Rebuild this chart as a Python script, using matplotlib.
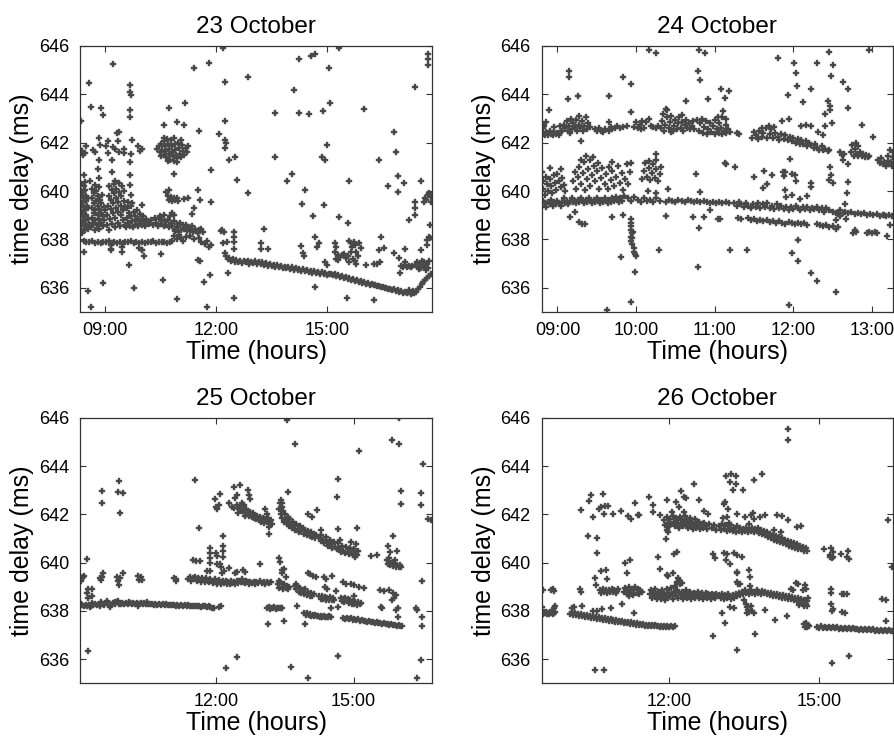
import matplotlib.pyplot as plt
import numpy as np

plt.rcParams['font.family'] = ['Liberation Sans', 'DejaVu Sans']

# ---------------- 23 October ----------------
oct23_early = [
    (8.33,638.4),(8.33,638.8),(8.34,639.2),(8.33,639.6),(8.34,640.0),(8.36,638.6),(8.37,639.0),(8.36,639.4),
    (8.37,639.8),(8.39,638.35),(8.4,638.75),(8.39,639.15),(8.4,639.55),(8.41,639.95),(8.43,638.55),(8.44,638.95),
    (8.43,639.35),(8.44,639.75),(8.46,638.4),(8.47,638.8),(8.46,639.2),(8.48,639.6),(8.47,640.05),(8.5,638.6),
    (8.5,639.0),(8.51,639.4),(8.5,639.8),(8.53,638.45),(8.54,638.85),(8.53,639.3),(8.55,639.7),(8.56,638.65),
    (8.35,640.3),(8.42,640.2),(8.38,638.25),
    (8.63,638.5),(8.64,638.9),(8.64,639.3),(8.65,639.7),(8.66,640.1),(8.68,638.7),(8.69,639.1),(8.7,639.5),
    (8.7,639.9),(8.73,638.4),(8.74,638.8),(8.74,639.2),(8.75,639.6),(8.76,640.0),(8.79,638.6),(8.8,639.0),
    (8.8,639.4),(8.81,639.8),(8.84,638.45),(8.85,638.85),(8.85,639.25),(8.86,639.65),(8.89,638.7),(8.9,639.1),
    (8.9,639.5),(8.92,639.85),(8.95,638.55),(8.95,638.95),(8.96,639.35),(8.98,638.8),(8.99,639.2),(8.72,640.25),
    (8.83,640.15),
    (9.05,638.6),(9.06,639.0),(9.08,639.4),(9.1,639.8),(9.12,640.2),(9.12,638.4),(9.14,638.85),(9.15,639.25),
    (9.16,639.65),(9.18,640.05),(9.2,638.65),(9.21,639.1),(9.22,639.5),(9.23,639.9),(9.24,640.3),(9.27,638.5),
    (9.28,638.9),(9.29,639.3),(9.3,639.7),(9.31,640.1),(9.34,638.7),(9.35,639.15),(9.36,639.55),(9.37,639.95),
    (9.38,640.35),(9.41,638.55),(9.42,639.0),(9.43,639.4),(9.44,639.8),(9.45,640.2),(9.48,638.8),(9.49,639.2),
    (9.5,639.6),(9.52,640.0),(9.54,638.6),(9.55,639.35),(9.26,640.4),
    (9.58,638.5),(9.59,638.9),(9.6,639.3),(9.63,638.7),(9.65,639.1),(9.67,638.55),(9.69,638.95),(9.71,639.4),
    (9.73,638.75),(9.75,638.5),(9.77,639.15),(9.8,638.6),(9.81,638.95),(9.84,638.8),(9.86,639.2),(9.88,638.55),
    (9.9,638.85),(9.93,638.65),(9.95,639.05),(9.97,638.8),(10.0,638.6),(10.02,638.95),(10.05,638.75),(10.08,638.55),
    (10.1,638.85),(10.13,638.7),(9.62,639.55),(9.74,639.5),
]
oct23_mid = [
    (10.2,638.65),(10.25,638.8),(10.3,638.6),(10.34,638.9),(10.38,638.7),(10.42,638.55),(10.45,638.85),(10.5,638.65),
    (10.54,638.8),(10.58,638.55),(10.62,638.75),(10.66,638.6),(10.7,638.8),(10.74,638.5),(10.78,638.7),(10.82,638.55),
    (10.86,638.75),(10.9,638.45),(10.94,638.65),(10.98,638.5),(11.02,638.7),(11.06,638.4),(11.1,638.6),(11.14,638.45),
    (11.18,638.6),(11.22,638.35),(11.26,638.5),(11.3,638.4),(11.34,638.55),(11.38,638.3),(11.42,638.45),(11.46,638.35),
    (10.48,638.95),(10.6,639.0),(10.75,638.95),(10.88,638.35),(11.0,638.3),
    (10.85,638.15),(10.95,638.0),(11.0,638.2),(11.05,638.05),(11.1,637.95),(11.2,638.1),(11.3,638.15),(11.4,638.0),
    (11.5,638.25),(11.55,638.05),(11.6,637.9),(11.65,638.3),(11.7,637.8),(11.75,637.95),(11.8,637.7),(11.85,637.75),
    (11.55,638.4),(11.6,638.45),
    (8.42,637.95),(8.5,637.9),(8.58,637.88),(8.65,637.92),(8.72,637.87),(8.8,637.9),(8.88,637.85),(8.95,637.9),
    (9.03,637.88),(9.1,637.92),(9.18,637.86),(9.25,637.9),(9.33,637.87),(9.4,637.91),(9.48,637.86),(9.55,637.9),
    (9.63,637.88),(9.7,637.92),(9.78,637.86),(9.85,637.9),(9.93,637.87),(10.0,637.91),(10.08,637.86),(10.15,637.9),
    (10.23,637.88),(10.3,637.92),(10.38,637.87),(10.45,637.9),(10.53,637.88),(10.6,637.91),(10.68,637.86),(10.75,637.9),
    (10.82,637.95),(9.15,637.75),(9.17,637.6),(9.45,637.7),(9.92,637.65),(10.0,637.55),
    (12.15,638.4),(12.2,638.3),(12.49,638.3),(12.49,638.1),(12.49,637.9),(12.3,637.9),(12.47,637.6),(12.27,637.3),
    (12.32,637.2),(12.12,638.35),(12.18,637.85),(12.25,637.45),
    (10.66,639.95),(10.7,639.8),(10.74,639.65),(10.78,639.75),(10.82,639.6),(10.86,639.7),(10.9,639.62),(10.94,639.72),
    (10.98,639.6),(10.72,640.05),(10.8,639.1),(10.85,639.0),
    (10.4,641.75),(10.45,641.85),(10.48,641.6),(10.52,641.95),(10.55,641.7),(10.58,641.5),(10.6,642.05),(10.62,641.85),
    (10.65,641.65),(10.66,641.4),(10.7,641.95),(10.72,641.75),(10.74,641.55),(10.76,641.3),(10.78,642.1),(10.8,641.85),
    (10.82,641.6),(10.84,641.45),(10.86,641.25),(10.88,641.95),(10.9,641.7),(10.92,641.5),(10.95,641.35),(10.97,642.0),
    (11.0,641.8),(11.02,641.55),(11.05,641.4),(11.08,641.9),(11.1,641.65),(11.14,641.5),(11.18,641.8),(11.22,641.6),
    (10.68,642.15),(10.58,642.2),(10.85,642.2),(11.05,642.1),(10.7,641.25),(10.95,641.2),(10.5,641.45),(11.25,641.85),
]
oct23_late = [
    (12.35,637.22),(12.40,637.10),(12.45,637.18),(12.50,637.05),(12.55,637.15),(12.60,637.08),(12.65,637.12),
    (12.70,637.02),(12.75,637.10),(12.80,637.05),(12.85,637.12),(12.90,637.00),(12.95,637.08),(13.00,637.03),
    (13.05,637.10),(13.10,636.98),(13.15,637.05),(13.20,637.00),(13.25,637.08),(13.30,636.95),(13.35,637.02),
    (13.40,636.92),(13.45,637.00),(13.50,636.90),(13.55,636.96),(13.60,636.88),(13.65,636.95),(13.70,636.85),
    (13.75,636.92),(13.80,636.82),(13.85,636.88),(13.90,636.80),(13.95,636.86),(14.00,636.78),(14.05,636.84),
    (14.10,636.75),(14.15,636.82),(14.20,636.72),(14.25,636.78),(14.30,636.70),(14.35,636.76),(14.40,636.68),
    (14.45,636.74),(14.50,636.65),(14.55,636.70),(14.60,636.62),(14.65,636.68),(14.70,636.60),(14.75,636.66),
    (14.80,636.58),(14.85,636.64),(14.90,636.55),(14.95,636.60),(15.00,636.52),(15.05,636.58),(15.10,636.58),
    (15.15,636.52),(15.20,636.56),(15.25,636.48),(15.30,636.52),(15.35,636.44),(15.40,636.48),(15.45,636.40),
    (15.50,636.44),(15.55,636.36),(15.60,636.40),(15.65,636.32),(15.70,636.36),(15.75,636.28),(15.80,636.32),
    (15.85,636.24),(15.90,636.28),(15.95,636.21),(16.00,636.24),(16.05,636.17),(16.10,636.21),(16.15,636.13),
    (16.20,636.17),(16.25,636.10),(16.30,636.13),(16.35,636.06),(16.40,636.09),(16.45,636.02),(16.50,636.05),
    (16.55,635.98),(16.60,636.01),(16.65,635.94),(16.70,635.97),(16.75,635.90),(16.80,635.93),(16.85,635.86),
    (16.90,635.90),(16.95,635.83),(17.00,635.86),(17.05,635.79),(17.10,635.83),(17.15,635.77),(17.20,635.81),
    (17.25,635.75),(17.30,635.79),(17.35,635.77),(17.40,635.84),(17.45,635.95),(17.50,636.05),(17.55,636.15),
    (17.60,636.25),(17.65,636.32),(17.70,636.40),(17.75,636.48),(17.80,636.55),(17.22,635.9),(17.32,635.88),
    (17.38,636.95),(17.42,637.05),(17.45,636.85),(17.5,637.0),(17.52,636.8),(17.55,637.1),(17.6,636.9),(17.62,637.05),
    (17.65,636.85),(17.7,637.0),(17.72,636.8),(17.75,637.1),(17.68,636.75),(17.48,636.78),
    (17.0,636.92),(17.05,636.85),(17.1,636.95),(17.15,636.88),(17.2,636.92),(17.25,636.85),(17.3,636.9),
    (15.2,637.85),(15.24,637.7),(15.21,637.5),(15.29,637.35),(15.35,637.28),(15.4,637.35),(15.46,637.4),(15.58,637.95),
    (15.63,637.85),(15.67,637.7),(15.71,637.9),(15.76,637.75),(15.78,637.5),(15.65,637.5),(15.57,637.3),(15.7,637.2),
    (15.76,637.1),(15.83,637.3),(15.86,637.85),(15.6,637.05),(15.78,636.98),(15.3,637.15),(15.25,637.2),(15.5,637.25),
    (15.9,637.65),
]
oct23_scatter = [
    (14.66,638.11),(14.73,637.7),(14.79,637.84),(14.28,637.73),(14.35,637.43),(14.38,637.3),(14.93,637.08),
    (14.99,636.95),(16.46,638.11),(16.53,637.63),(16.4,637.56),(16.06,636.95),(16.25,636.98),(16.35,637.0),
    (16.42,637.05),(16.8,637.45),(16.95,637.22),(17.11,637.6),(17.1,637.08),(16.97,636.63),
    (17.2,638.8),(17.38,639.03),(17.36,639.3),(17.38,639.55),(17.61,639.55),(17.63,639.7),(17.68,639.62),
    (17.72,639.85),(17.76,639.9),(17.79,639.55),(17.81,639.75),(17.78,638.6),(17.77,638.05),(17.69,637.98),
    (17.54,637.56),(17.7,637.75),(17.74,638.1),
    (14.25,645.45),(14.57,645.59),(14.66,645.67),(15.31,645.92),(15.04,645.08),(14.09,644.18),(13.6,643.23),
    (14.23,643.23),(14.5,643.19),(14.88,643.33),(15.08,643.63),(15.98,643.41),(17.36,644.3),(17.72,645.66),
    (17.72,645.48),(17.72,645.2),(13.58,641.39),(14.99,641.91),(14.85,641.4),(14.95,641.3),(14.05,640.69),
    (13.91,640.43),(14.41,640.03),(15.58,640.43),(16.41,641.3),(16.79,642.43),(16.86,641.61),(16.91,640.61),
    (17.07,640.33),(16.91,639.96),(16.65,640.22),(17.54,640.43),(14.31,639.48),(14.9,639.44),(14.62,638.96),
    (15.32,638.91),(15.56,638.66),(13.3,638.43),(13.22,637.84),(13.22,637.6),(13.41,637.6),(14.68,636.03),
    (15.53,635.57),(16.26,635.48),
    (8.37,641.64),(8.46,641.58),(8.5,641.88),(8.68,641.68),(8.84,642.19),(8.86,641.91),(9.03,641.86),(9.07,642.09),
    (9.09,641.58),(9.21,641.82),(9.27,641.75),(9.36,642.05),(9.39,641.61),(9.51,641.72),(9.5,641.58),(9.72,642.13),
    (9.7,641.54),(9.9,641.88),(9.95,641.64),(9.99,641.75),(9.33,642.41),(9.39,642.46),(9.68,641.2),(9.18,641.27),
    (8.85,641.27),(8.33,641.75),(8.4,641.5),(8.73,641.6),
    (8.44,640.68),(8.46,640.38),(8.59,640.4),(8.82,640.9),(8.85,640.54),(9.18,640.79),(9.68,640.68),(9.68,640.24),
    (9.69,639.83),(9.99,639.42),
    (11.86,640.86),(11.86,639.55),(11.5,640.03),(11.57,639.62),(11.39,639.28),(11.34,639.07),(11.25,639.7),
    (11.12,639.66),(10.86,640.72),
    (8.55,635.85),(8.95,636.2),(9.77,636.0),(9.66,636.95),(8.62,635.2),(10.94,635.55),(10.56,636.33),(10.51,637.4),
    (10.04,637.3),(9.45,637.5),(9.15,637.56),(8.43,637.5),(10.0,637.56),(11.66,636.26),(11.84,636.53),(11.75,635.2),
    (12.49,635.58),(12.33,636.6),(11.52,637.15),(11.57,637.1),
    (9.21,645.25),(8.58,644.48),(9.68,644.38),(9.68,644.1),(9.69,643.97),(8.62,643.49),(8.9,643.42),(8.95,643.15),
    (9.68,643.34),(9.68,643.08),(11.4,645.07),(11.81,645.31),(12.19,645.9),(12.23,644.52),(12.87,644.7),
    (10.74,643.45),(11.17,643.63),(10.6,642.74),(10.94,642.87),(11.13,642.74),(11.53,642.47),(12.08,642.36),
    (12.23,642.9),(12.25,642.12),(12.27,642.0),(12.23,641.8),(12.34,641.3),(12.52,641.39),(12.56,640.47),
    (12.87,639.9),(8.36,642.9),
]

# ---------------- 24 October ----------------
oct24_upper = [
    (8.81,642.35),(8.82,642.6),(8.84,642.3),(8.86,642.45),(8.88,642.3),(8.9,642.5),(8.92,642.35),(8.94,642.3),
    (8.96,642.45),(8.98,642.35),(9.0,642.4),(9.02,642.3),(9.04,642.5),(8.85,642.85),(8.83,642.7),(8.95,642.65),
    (9.03,642.7),
    (9.06,642.5),(9.08,642.75),(9.1,642.6),(9.12,642.9),(9.13,642.5),(9.15,642.7),(9.17,643.0),(9.18,642.55),
    (9.2,642.8),(9.22,642.65),(9.24,642.95),(9.25,642.5),(9.27,642.75),(9.29,642.6),(9.31,642.9),(9.32,642.5),
    (9.34,642.7),(9.36,643.05),(9.37,642.55),(9.39,642.8),(9.41,642.65),(9.28,643.1),(9.16,642.4),
    (9.48,642.55),(9.5,642.5),(9.53,642.6),(9.56,642.5),(9.6,642.55),(9.65,642.5),(9.68,642.65),(9.7,642.55),
    (9.73,642.6),(9.76,642.7),(9.8,642.6),(9.84,642.65),(9.88,642.7),(9.66,642.85),(9.58,642.45),
    (9.98,642.65),(10.02,642.6),(10.05,642.75),(10.08,642.9),(10.1,642.6),(10.13,642.85),(10.16,643.0),
    (10.19,642.7),(10.22,642.65),(10.25,642.6),(10.28,642.7),(10.0,642.85),(10.06,642.55),
    (10.32,642.6),(10.33,642.9),(10.34,643.2),(10.36,642.5),(10.37,642.75),(10.39,643.05),(10.4,643.35),
    (10.42,642.6),(10.43,642.85),(10.45,643.1),(10.47,642.5),(10.48,642.7),(10.5,642.95),(10.52,642.55),
    (10.53,642.8),(10.55,643.05),(10.57,642.6),(10.58,642.85),(10.6,642.5),(10.62,642.75),(10.63,642.95),
    (10.65,642.6),(10.67,642.8),(10.69,642.55),(10.71,642.7),(10.73,642.9),(10.74,642.55),(10.38,643.4),
    (10.44,642.45),(10.59,643.15),
    (10.8,642.5),(10.82,642.8),(10.84,643.0),(10.85,642.4),(10.87,642.65),(10.89,642.9),(10.9,642.35),
    (10.92,642.55),(10.94,642.8),(10.96,642.45),(10.98,642.7),(11.0,642.95),(11.01,642.35),(11.03,642.55),
    (11.05,642.8),(11.06,642.4),(11.08,642.6),(11.1,642.35),(11.12,642.5),(11.14,642.75),(11.15,642.4),
    (11.17,642.55),(11.19,642.45),(10.78,642.95),(11.04,643.05),(11.29,642.4),(11.31,642.35),
    (11.48,642.2),(11.5,642.45),(11.52,642.3),(11.55,642.15),(11.57,642.5),(11.6,642.25),(11.62,642.4),
    (11.65,642.6),(11.67,642.2),(11.7,642.35),(11.72,642.55),(11.74,642.2),(11.77,642.4),(11.8,642.25),
    (11.82,642.1),(11.85,642.35),(11.88,642.15),(11.9,642.3),(11.93,642.1),(11.96,642.25),(11.98,642.05),
    (12.0,642.2),(12.03,642.0),(12.06,642.15),(12.08,641.95),(12.1,642.1),(12.13,641.95),(12.16,642.05),
    (12.18,641.85),(12.2,642.0),(12.23,641.9),(12.26,641.8),(12.28,641.95),(12.3,641.8),(12.33,641.7),
    (12.36,641.85),(12.38,641.7),(12.41,641.75),(12.44,641.65),(12.46,641.7),(11.69,642.7),(11.75,642.65),
    (11.6,642.6),(12.6,641.6),(12.62,641.5),(12.64,641.55),
    (12.74,641.6),(12.75,641.9),(12.77,641.45),(12.78,641.75),(12.8,641.55),(12.82,641.85),(12.83,641.45),
    (12.85,641.6),(12.87,641.45),(12.89,641.55),(12.91,641.4),(12.93,641.5),(12.95,641.4),(12.97,641.45),
    (12.8,642.0),
    (13.08,641.3),(13.1,641.15),(13.12,641.35),(13.14,641.1),(13.16,641.2),(13.18,641.05),(13.2,641.25),
    (13.22,641.1),(13.24,641.2),(13.26,641.05),(13.28,641.15),(13.21,641.45),(13.27,641.4),
]
oct24_lower = [
    (8.8,639.4),(8.82,639.6),(8.84,639.5),(8.86,639.35),(8.88,639.55),(8.9,639.45),(8.92,639.65),(8.94,639.4),
    (8.96,639.55),(8.98,639.45),(9.0,639.6),(9.02,639.5),(9.04,639.4),(9.06,639.55),(9.08,639.7),(9.1,639.5),
    (9.12,639.6),(9.14,639.45),(9.16,639.55),(9.18,639.7),(9.2,639.55),(9.22,639.6),(9.24,639.5),(9.26,639.65),
    (9.28,639.55),(9.3,639.7),(9.32,639.6),(9.34,639.5),(9.36,639.65),(9.38,639.55),(9.4,639.7),(9.42,639.6),
    (9.44,639.5),(9.46,639.65),(9.48,639.55),(9.5,639.7),(9.52,639.6),(9.54,639.5),(9.56,639.65),(9.58,639.55),
    (9.6,639.7),(9.62,639.6),(9.64,639.5),(9.66,639.65),(9.68,639.55),(9.7,639.7),(9.72,639.6),(9.74,639.75),
    (9.76,639.65),(9.78,639.55),(9.8,639.7),(9.82,639.6),(9.85,639.8),(9.9,639.7),(9.94,639.6),(9.98,639.75),
    (10.02,639.65),(10.06,639.55),(10.1,639.7),(10.14,639.6),(10.18,639.65),(10.22,639.55),(10.26,639.7),(10.3,639.6),
    (8.8,640.8),(8.81,640.4),(8.82,640.1),(8.84,639.85),(8.85,640.6),(8.87,640.3),(8.88,640.0),(8.9,640.5),
    (8.92,640.2),(8.93,639.9),(8.95,640.65),(8.97,640.35),(8.98,640.05),(9.0,640.7),(9.02,640.4),(9.04,640.15),
    (9.06,640.55),(9.08,640.25),(9.1,640.0),(8.9,640.95),(9.05,640.9),
    (9.2,640.4),(9.22,640.8),(9.24,640.1),(9.26,640.6),(9.28,641.0),(9.3,640.3),(9.32,640.75),(9.34,641.2),
    (9.35,640.05),(9.37,640.5),(9.39,640.9),(9.41,641.3),(9.42,640.2),(9.44,640.65),(9.46,641.05),(9.48,640.4),
    (9.5,640.85),(9.52,641.15),(9.53,640.1),(9.55,640.55),(9.57,640.95),(9.36,641.45),(9.45,641.4),(9.3,641.3),
    (9.6,640.3),(9.62,640.7),(9.64,640.1),(9.66,641.0),(9.68,640.45),(9.7,640.85),(9.72,640.2),(9.75,640.6),
    (9.77,641.05),(9.79,640.35),(9.82,640.75),(9.84,640.05),(9.86,640.5),(9.88,641.1),(9.9,640.3),(9.92,640.8),
    (9.94,641.15),(9.69,641.2),
    (10.08,640.5),(10.1,640.85),(10.12,641.15),(10.14,640.6),(10.16,640.95),(10.18,640.45),(10.2,640.75),
    (10.22,641.1),(10.24,640.55),(10.26,640.9),(10.28,640.4),(10.3,640.7),(10.32,641.0),(10.17,641.25),
    (10.26,641.3),(10.15,640.0),(10.25,639.9),
    (10.38,639.55),(10.42,639.65),(10.46,639.6),(10.5,639.55),(10.54,639.65),(10.58,639.6),(10.62,639.55),
    (10.66,639.65),(10.7,639.6),(10.74,639.55),(10.78,639.6),(10.82,639.55),(10.86,639.6),(10.9,639.55),
    (10.94,639.5),(10.98,639.55),(11.02,639.5),(11.06,639.55),(11.1,639.5),(11.14,639.55),(11.18,639.5),
    (11.25,639.5),(11.28,639.4),(11.31,639.55),(11.34,639.45),(11.37,639.35),(11.4,639.5),(11.43,639.4),
    (11.46,639.3),(11.49,639.45),(11.52,639.35),(11.55,639.5),(11.58,639.3),(11.61,639.45),(11.64,639.35),
    (11.67,639.5),(11.7,639.3),(11.73,639.4),(11.76,639.25),(11.79,639.45),(11.82,639.3),(11.85,639.4),
    (11.88,639.25),(11.91,639.35),(11.94,639.2),(11.97,639.35),(12.0,639.25),(12.03,639.4),(12.06,639.3),
    (12.09,639.2),(12.12,639.35),(12.15,639.25),(12.18,639.35),(12.21,639.2),(12.24,639.3),(12.27,639.25),
    (12.3,639.35),(12.33,639.2),(12.36,639.3),(12.39,639.15),(12.42,639.3),(12.45,639.2),(12.5,639.15),
    (12.55,639.1),(12.6,639.2),(12.63,639.1),(12.66,639.15),(12.7,639.1),(12.74,639.15),(12.78,639.05),
    (12.82,639.1),(12.86,639.05),(12.9,639.1),(12.94,639.0),(12.98,639.05),(13.02,639.0),(13.06,639.05),
    (13.1,638.95),(13.14,639.0),(13.18,638.95),(13.22,639.0),(13.26,638.95),(13.28,639.0),
    (11.04,638.86),(11.07,638.84),(11.3,638.87),(11.33,638.83),(11.42,638.9),(11.46,638.8),(11.5,638.85),
    (11.54,638.78),(11.58,638.82),(11.62,638.75),(11.66,638.8),(11.7,638.72),(11.74,638.78),(11.78,638.7),
    (11.82,638.75),(11.86,638.7),(11.9,638.65),(11.94,638.72),(11.98,638.68),(12.02,638.65),(12.06,638.7),
    (12.1,638.62),(12.14,638.66),(12.18,638.6),(12.3,638.62),(12.34,638.58),(12.38,638.55),(12.42,638.6),
    (12.46,638.5),(12.5,638.55),(12.54,638.45),(12.57,638.5),(12.78,638.4),(12.8,638.3),(12.94,638.25),
    (12.97,638.3),(13.0,638.25),(12.55,638.8),(12.6,638.95),(12.57,639.05),(13.04,638.3),(13.06,638.25),
    (9.93,638.85),(9.94,638.7),(9.93,638.55),(9.94,638.4),(9.95,638.25),(9.93,638.1),(9.94,637.95),(9.96,638.3),
    (9.95,637.8),(9.97,637.65),(9.98,637.5),(9.99,637.4),(9.95,638.05),(10.0,637.3),
]
oct24_scatter = [
    (9.15,644.96),(9.15,644.7),(9.26,643.94),(9.13,643.8),(8.89,643.37),(9.66,643.94),(9.83,644.7),(9.94,644.42),
    (9.93,643.26),(10.17,645.82),(10.26,645.7),(10.8,645.84),(10.88,645.7),(10.79,644.96),(10.82,644.6),
    (10.91,643.8),(10.63,643.74),(9.3,642.09),(9.16,638.94),(9.27,638.73),(9.31,638.65),(9.35,638.63),
    (9.22,639.14),(9.7,638.94),(9.84,639.03),(9.81,637.28),(9.99,636.64),(9.93,635.4),(9.63,635.1),(10.29,637.56),
    (10.38,638.96),(10.41,640.1),(10.76,640.72),(10.82,639.96),(10.72,638.94),(10.87,638.94),(10.8,638.46),
    (10.79,636.88),(10.94,639.21),(10.26,641.54),
    (11.81,645.49),(12.01,645.29),(12.03,644.88),(12.05,644.33),(11.93,643.97),(12.12,643.7),(12.23,644.22),
    (12.3,645.31),(12.46,645.73),(12.51,645.2),(12.48,644.77),(12.63,644.49),(12.7,644.22),(12.7,643.43),
    (12.44,643.74),(12.47,643.5),(12.47,643.35),(12.4,643.19),(12.49,642.8),(12.41,642.68),(12.32,642.43),
    (12.38,642.3),(12.88,642.75),(13.01,642.23),(12.96,645.84),(11.08,644.24),(11.18,644.12),(11.13,643.83),
    (11.11,643.3),(11.1,643.05),(11.15,643.0),(11.86,642.91),(11.95,642.98),(12.1,642.7),(12.16,642.73),
    (12.23,642.7),
    (11.13,641.17),(11.15,641.12),(11.26,640.99),(11.5,640.6),(11.63,640.84),(11.67,640.31),(11.73,640.68),
    (11.87,640.78),(11.9,640.78),(11.88,640.62),(11.98,640.72),(12.02,640.65),(12.03,640.4),(11.96,641.34),
    (11.62,640.13),(11.9,640.03),(11.91,639.76),(11.98,639.83),(12.09,639.66),(12.17,639.79),(12.22,640.35),
    (12.22,640.17),(12.47,641.0),(12.48,640.65),(12.5,640.35),(12.46,640.47),(12.63,641.27),(12.7,641.13),
    (12.7,640.38),(12.69,639.9),
    (11.2,637.56),(11.41,637.56),(12.06,637.98),(11.98,637.45),(12.06,637.1),(12.23,636.62),(12.3,636.3),
    (12.55,635.82),(11.95,635.3),(12.76,638.28),(12.66,639.45),(12.67,638.85),(13.16,639.0),(13.23,638.6),
    (13.27,641.6),(13.23,641.68),(13.19,638.15),
]

# ---------------- 25 October ----------------
oct25_bands = [
    (9.04,638.22),(9.08,638.25),(9.12,638.2),(9.16,638.24),(9.2,638.22),(9.24,638.26),(9.28,638.21),(9.32,638.25),
    (9.36,638.3),(9.4,638.24),(9.44,638.28),(9.48,638.22),(9.52,638.3),(9.56,638.26),(9.6,638.32),(9.64,638.27),
    (9.68,638.3),(9.72,638.25),(9.76,638.33),(9.8,638.28),(9.84,638.36),(9.88,638.3),(9.92,638.27),(9.96,638.32),
    (10.0,638.28),(10.04,638.33),(10.08,638.29),(10.12,638.31),(10.16,638.27),(10.2,638.32),(10.24,638.29),
    (10.28,638.33),(10.32,638.3),(10.36,638.32),(10.4,638.28),(10.44,638.31),(10.48,638.27),(10.52,638.3),
    (10.56,638.28),(10.6,638.3),(10.64,638.26),(10.68,638.29),(10.72,638.25),(10.76,638.28),(10.8,638.26),
    (10.84,638.28),(10.88,638.24),(10.92,638.27),(10.96,638.24),(11.0,638.26),(11.04,638.23),(11.08,638.26),
    (11.12,638.22),(11.16,638.25),(11.2,638.22),(11.24,638.24),(11.28,638.21),(11.32,638.24),(11.36,638.2),
    (11.4,638.23),(11.44,638.2),(11.48,638.22),(11.52,638.19),(11.56,638.22),(11.6,638.2),(11.64,638.22),
    (11.68,638.18),(11.72,638.21),(11.76,638.2),(11.8,638.17),(11.84,638.2),(11.88,638.15),(11.92,638.12),
    (11.96,638.1),(12.07,638.15),(12.1,638.2),(9.06,638.3),(9.3,638.32),(9.5,638.35),(9.62,638.4),(9.8,638.38),
    (9.86,638.42),(10.1,638.36),(9.25,638.15),(9.7,638.18),(10.3,638.2),(10.5,638.37),
    (11.4,639.3),(11.43,639.4),(11.46,639.25),(11.49,639.35),(11.52,639.3),(11.55,639.42),(11.58,639.25),
    (11.61,639.35),(11.64,639.3),(11.67,639.2),(11.7,639.38),(11.73,639.28),(11.76,639.2),(11.79,639.35),
    (11.82,639.25),(11.85,639.18),(11.88,639.32),(11.91,639.22),(11.94,639.15),(11.97,639.3),(12.0,639.2),
    (12.03,639.12),(12.06,639.28),(12.09,639.18),(12.12,639.1),(12.15,639.25),(12.18,639.15),(12.21,639.22),
    (12.24,639.1),(12.27,639.2),(12.3,639.12),(12.33,639.25),(12.36,639.15),(12.39,639.2),(12.42,639.1),
    (12.45,639.22),(12.48,639.15),(12.51,639.25),(12.54,639.18),(12.57,639.3),(12.6,639.2),(12.63,639.15),
    (12.66,639.25),(12.69,639.18),(12.72,639.12),(12.75,639.2),(12.78,639.15),(12.82,639.18),(12.85,639.12),
    (12.88,639.2),(12.92,639.15),(12.96,639.22),(13.0,639.15),(13.04,639.18),(13.08,639.12),(13.12,639.2),
    (13.16,639.15),(13.2,639.18),
    (12.29,642.45),(12.34,642.3),(12.45,642.38),(12.4,642.25),(12.5,642.2),(12.54,642.35),(12.57,642.15),
    (12.6,642.3),(12.63,642.05),(12.66,642.2),(12.68,642.0),(12.7,642.15),(12.72,641.95),(12.75,642.1),
    (12.78,641.9),(12.8,642.05),(12.82,641.85),(12.85,641.95),(12.87,641.8),(12.56,642.45),(12.62,642.4),
    (12.48,642.05),(12.64,641.95),
    (12.9,641.95),(12.93,641.75),(12.96,641.9),(12.99,641.7),(13.02,641.85),(13.05,641.65),(13.08,641.8),
    (13.11,641.7),(13.14,641.85),(13.17,641.65),(13.2,641.75),(13.23,641.6),
    (13.38,642.2),(13.4,642.45),(13.41,642.0),(13.43,642.3),(13.44,641.85),(13.46,642.15),(13.48,641.7),
    (13.5,642.0),(13.52,641.8),(13.54,641.6),(13.56,641.9),(13.58,641.7),(13.6,641.5),(13.62,641.8),(13.64,641.6),
    (13.66,641.45),(13.68,641.7),(13.7,641.5),(13.72,641.35),(13.75,641.6),(13.78,641.4),(13.8,641.25),
    (13.83,641.5),(13.86,641.3),(13.89,641.45),(13.92,641.2),(13.95,641.35),(13.98,641.15),(14.01,641.3),
    (14.04,641.1),(14.07,641.25),(14.1,641.05),(14.13,641.2),(14.16,641.0),(14.19,641.15),(13.42,642.6),
    (13.44,642.45),
    (14.25,641.05),(14.28,640.9),(14.3,641.15),(14.33,640.95),(14.36,640.8),(14.39,641.05),(14.42,640.85),
    (14.45,640.7),(14.48,640.95),(14.51,640.75),(14.54,640.6),(14.57,640.85),(14.6,640.65),(14.63,640.55),
    (14.66,640.8),(14.69,640.6),(14.72,640.45),(14.75,640.7),(14.78,640.5),(14.81,640.4),(14.84,640.65),
    (14.87,640.45),(14.9,640.35),(14.93,640.6),(14.96,640.4),(14.98,640.3),(15.0,640.55),(15.02,640.35),
    (15.04,640.25),(15.06,640.45),(15.08,640.3),(15.1,640.5),(15.05,640.75),(14.95,640.85),(14.7,640.95),
    (14.3,641.35),
    (15.72,640.1),(15.75,639.95),(15.78,640.05),(15.8,639.9),(15.83,640.0),(15.86,639.85),(15.89,639.95),
    (15.92,639.82),(15.95,639.92),(15.98,639.8),(16.01,639.88),(16.04,639.82),(15.77,640.2),(15.9,640.1),
    (13.35,639.1),(13.38,638.95),(13.4,639.2),(13.43,639.0),(13.46,638.9),(13.49,639.1),(13.52,638.95),
    (13.55,639.05),(13.58,638.9),(13.6,639.0),(13.37,639.25),
    (13.72,639.05),(13.75,638.9),(13.78,639.0),(13.8,638.8),(13.83,638.95),(13.86,638.75),(13.89,638.85),
    (13.92,638.7),(13.95,638.9),(13.98,638.65),(14.01,638.8),(14.04,638.62),(14.07,638.75),(14.1,638.6),
    (14.13,638.7),(13.75,639.1),
    (14.25,638.6),(14.28,638.5),(14.31,638.62),(14.34,638.48),(14.37,638.58),(14.4,638.45),(14.43,638.55),
    (14.46,638.47),(14.49,638.56),(14.52,638.45),(14.55,638.52),(14.58,638.46),
    (14.72,638.55),(14.74,638.4),(14.77,638.5),(14.8,638.35),(14.82,638.55),(14.85,638.4),(14.88,638.48),
    (14.9,638.32),(14.93,638.45),(14.96,638.3),(14.98,638.42),(15.01,638.28),(15.04,638.38),(15.07,638.25),
    (15.1,638.35),(15.13,638.28),(15.16,638.32),(15.0,638.6),
    (13.12,638.1),(13.15,638.15),(13.18,638.08),(13.21,638.14),(13.24,638.1),(13.27,638.15),(13.3,638.09),
    (13.33,638.13),(13.36,638.1),(13.39,638.14),(13.42,638.11),(13.45,638.12),
    (13.93,637.92),(13.96,637.85),(13.99,637.9),(14.02,637.82),(14.05,637.88),(14.08,637.8),(14.11,637.85),
    (14.14,637.78),(14.17,637.83),(14.2,637.77),(14.23,637.8),(14.26,637.75),(14.29,637.79),(14.32,637.74),
    (14.35,637.77),(14.38,637.73),(14.41,637.76),(14.44,637.74),(14.47,637.77),(14.5,637.75),
    (14.78,637.72),(14.82,637.68),(14.86,637.72),(14.9,637.66),(14.94,637.7),(14.98,637.64),(15.02,637.68),
    (15.06,637.62),(15.1,637.66),(15.14,637.6),(15.18,637.62),(15.22,637.57),(15.26,637.6),(15.3,637.55),
    (15.34,637.58),(15.38,637.52),(15.42,637.55),(15.46,637.5),(15.5,637.53),(15.54,637.48),(15.58,637.5),
    (15.62,637.46),(15.66,637.49),(15.7,637.44),(15.74,637.47),(15.78,637.42),(15.82,637.45),(15.86,637.4),
    (15.9,637.43),(15.94,637.38),(15.98,637.4),(16.02,637.36),(16.06,637.38),
]
oct25_scatter = [
    (9.2,640.14),(9.07,639.35),(9.1,639.4),(9.12,639.45),(9.05,639.25),(9.22,638.9),(9.29,638.9),(9.2,638.75),
    (9.22,638.55),(9.29,638.6),(9.47,639.35),(9.51,639.42),(9.53,639.57),(9.49,639.26),(9.85,639.4),(9.91,639.38),
    (9.89,639.07),(9.98,639.55),(9.87,639.23),(10.31,639.43),(10.35,639.33),(10.38,639.27),(10.32,639.27),
    (10.37,639.4),(11.08,639.35),(11.14,639.3),(11.12,639.25),(9.51,642.97),(9.51,642.47),(9.89,643.37),
    (9.87,642.93),(9.97,642.9),(9.91,642.06),(9.22,636.32),(11.54,643.41),(11.62,641.44),
    (11.5,640.1),(11.57,640.05),(11.65,640.07),(11.8,639.65),(11.88,639.65),(11.87,640.6),(11.87,640.4),
    (11.88,640.2),(11.88,640.0),(12.0,640.4),(12.02,640.27),(12.03,639.96),(12.16,641.1),(12.15,640.68),
    (12.16,640.47),(12.16,640.24),(12.09,639.96),(12.12,639.8),(12.17,639.66),(12.14,639.55),(12.28,639.78),
    (12.41,639.57),(12.45,639.62),(12.6,639.68),(12.63,639.62),
    (11.98,642.65),(12.09,642.86),(12.0,642.3),(12.07,642.4),(12.03,642.2),(12.39,643.13),(12.53,643.2),
    (12.69,643.0),(12.45,642.78),(12.42,642.68),(12.72,642.78),(12.74,642.65),(12.21,635.62),(12.45,636.1),
    (13.55,645.89),(13.73,644.9),(13.57,642.93),(13.07,642.2),(13.12,642.0),(13.16,641.73),(13.15,641.48),
    (13.15,641.2),(12.97,639.96),(14.01,642.03),(14.09,641.89),(14.21,642.17),(14.67,643.46),(14.64,642.72),
    (14.66,641.41),(15.08,641.44),(15.11,644.62),(15.39,640.26),(15.51,640.3),(15.83,645.06),(16.0,644.93),
    (16.0,645.99),(16.04,642.97),(16.04,642.42),(16.48,642.89),(16.47,642.38),(16.52,644.07),(16.63,641.81),
    (15.87,641.1),(15.76,640.7),(15.79,640.45),(15.94,640.5),(16.68,641.78),
    (13.38,640.2),(13.39,640.03),(13.44,639.68),(13.45,639.55),(13.49,639.75),(13.52,639.4),
    (14.0,639.55),(14.05,639.52),(14.11,639.44),(14.19,639.41),(14.36,639.4),(14.4,639.3),(14.54,639.44),
    (14.38,638.98),(14.43,638.92),(14.83,639.13),(14.94,639.1),(15.01,639.07),(15.12,639.0),(15.23,638.95),
    (14.77,639.2),(15.58,638.85),(15.67,638.83),(15.78,638.86),(15.6,638.17),(15.63,638.14),(15.85,638.72),
    (15.88,638.52),(15.83,638.45),(15.92,638.65),(15.92,638.03),(15.96,638.1),(15.96,637.75),(16.49,639.24),
    (16.36,638.1),(16.38,638.05),(16.49,637.75),(16.49,637.37),
    (13.14,637.45),(13.76,638.21),(13.49,637.59),(13.94,637.45),(14.5,638.1),(14.61,638.83),(14.67,638.17),
    (14.67,636.13),(13.63,635.66),(14.0,635.24),(16.38,635.2),(16.48,635.96),
]

# ---------------- 26 October ----------------
oct26_bands = [
    (9.45,637.95),(9.47,637.88),(9.49,637.97),(9.51,637.9),(9.53,637.95),(9.55,637.87),(9.57,637.93),(9.59,637.88),
    (9.61,637.96),(9.63,637.9),(9.65,637.94),(9.67,637.87),(9.69,637.92),(9.71,637.95),
    (10.01,637.88),(10.04,637.95),(10.07,637.85),(10.1,637.92),(10.13,637.82),(10.16,637.88),(10.19,637.8),
    (10.22,637.86),(10.25,637.78),(10.28,637.84),(10.31,637.76),(10.34,637.82),(10.37,637.74),(10.4,637.8),
    (10.43,637.72),(10.46,637.78),(10.49,637.7),(10.52,637.76),(10.55,637.68),(10.58,637.74),(10.61,637.66),
    (10.64,637.72),(10.67,637.64),(10.7,637.7),(10.73,637.62),(10.76,637.68),(10.79,637.6),(10.82,637.66),
    (10.85,637.58),(10.88,637.64),(10.91,637.56),(10.94,637.62),(10.97,637.54),(11.0,637.6),(11.03,637.52),
    (11.06,637.58),(11.09,637.5),(11.12,637.56),(11.15,637.48),(11.18,637.54),(11.21,637.46),(11.24,637.52),
    (11.27,637.45),(11.3,637.5),(11.33,637.43),(11.36,637.48),(11.39,637.42),(11.42,637.46),(11.45,637.4),
    (11.48,637.45),(11.51,637.39),(11.54,637.43),(11.57,637.38),(11.6,637.42),(11.63,637.37),(11.66,637.41),
    (11.69,637.36),(11.72,637.4),(11.75,637.36),(11.78,637.39),(11.81,637.35),(11.84,637.38),(11.87,637.34),
    (11.9,637.37),(11.93,637.35),(11.96,637.38),(12.0,637.34),(12.04,637.36),(12.08,637.35),(12.12,637.38),
    (10.05,638.1),(10.09,638.15),
    (10.6,638.85),(10.63,638.75),(10.66,638.9),(10.69,638.78),(10.72,638.88),(10.75,638.75),(10.78,638.85),
    (10.81,638.78),(10.84,638.9),(10.87,638.8),(10.9,638.86),(10.93,638.76),(10.96,638.84),(10.98,638.9),
    (11.1,638.8),(11.12,638.95),(11.15,638.7),(11.18,638.85),(11.2,639.0),(11.22,638.75),(11.25,638.9),
    (11.27,638.65),(11.3,638.85),(11.32,639.0),(11.35,638.75),(11.37,638.9),(11.4,638.7),(11.42,638.85),
    (11.45,638.8),(11.2,638.6),
    (11.62,638.7),(11.64,638.85),(11.66,638.55),(11.68,638.75),(11.7,638.6),(11.72,638.9),(11.74,638.65),
    (11.76,638.5),(11.78,638.8),(11.8,638.6),(11.82,638.7),(11.84,638.5),(11.86,638.85),(11.88,638.6),
    (11.9,638.75),(11.92,638.45),(11.94,638.65),(11.96,638.9),(11.98,638.55),(12.0,638.75),(12.02,638.6),
    (12.04,638.95),(12.06,638.7),(12.08,638.5),(12.1,638.8),(12.12,639.05),(12.14,638.6),(12.16,638.85),
    (12.18,638.55),(12.2,638.75),(12.22,639.1),(12.24,638.65),(12.26,638.8),(12.28,638.5),(12.3,638.7),
    (12.32,638.6),(12.34,638.85),(12.36,638.55),(12.38,638.7),(12.4,638.6),(12.42,638.8),(12.44,638.5),
    (12.46,638.7),(12.48,638.6),(12.5,638.75),(12.52,638.55),(12.54,638.7),(12.56,638.6),(12.58,638.8),
    (12.6,638.55),(12.62,638.7),(12.64,638.6),(12.66,638.75),(12.68,638.5),(12.7,638.65),(12.72,638.6),
    (12.74,638.75),(12.76,638.55),(12.78,638.7),(12.8,638.6),(12.82,638.65),(12.84,638.5),(12.86,638.7),
    (12.88,638.58),(12.9,638.66),(12.92,638.52),(12.94,638.7),(12.96,638.6),(12.15,639.2),(12.18,639.35),
    (12.2,639.28),(12.25,639.15),
    (13.0,638.65),(13.03,638.55),(13.06,638.7),(13.09,638.5),(13.12,638.65),(13.15,638.55),(13.18,638.7),
    (13.21,638.6),(13.24,638.5),(13.27,638.65),(13.3,638.55),(13.33,638.7),(13.36,638.6),(13.39,638.75),
    (13.42,638.65),(13.45,638.8),(13.48,638.7),(13.51,638.85),(13.54,638.75),(13.57,638.8),(13.6,638.7),
    (13.63,638.85),(13.66,638.75),(13.69,638.8),(13.72,638.7),(13.75,638.85),(13.78,638.75),(13.81,638.8),
    (13.84,638.7),(13.87,638.82),(13.9,638.72),(13.93,638.78),(13.96,638.68),(13.99,638.75),(14.02,638.65),
    (14.05,638.72),(14.08,638.6),(14.11,638.7),(14.14,638.62),(14.17,638.68),(14.2,638.58),(14.23,638.66),
    (14.26,638.55),(14.29,638.64),(14.32,638.52),(14.35,638.62),(14.38,638.5),(14.41,638.6),(14.44,638.48),
    (14.47,638.56),(14.5,638.45),(14.53,638.55),(14.56,638.42),(14.59,638.52),(14.62,638.38),(14.65,638.48),
    (14.68,638.32),(14.71,638.45),(14.74,638.28),(14.77,638.4),(14.76,638.2),(14.7,638.2),(14.6,638.25),
    (13.5,638.45),(13.53,638.3),(13.55,638.15),(13.58,638.05),(13.6,637.95),(13.63,638.2),(13.66,638.0),
    (13.69,637.9),(13.56,637.9),
    (11.9,641.75),(11.92,641.55),(11.95,641.9),(11.97,641.65),(12.0,641.5),(12.02,641.8),(12.04,641.6),
    (12.07,641.95),(12.09,641.7),(12.11,641.5),(12.13,641.85),(12.15,641.6),(12.18,641.75),(12.2,641.45),
    (12.22,641.9),(12.24,641.65),(12.26,641.8),(12.28,641.5),(12.3,641.7),(12.32,641.95),(12.34,641.55),
    (12.36,641.75),(12.38,641.45),(12.4,641.65),(12.42,641.85),(12.44,641.5),(12.46,641.7),(12.48,641.4),
    (12.5,641.6),(12.52,641.8),(12.54,641.45),(12.56,641.65),(12.58,641.5),(12.6,641.7),(12.62,641.4),
    (12.65,641.6),(12.68,641.45),(12.7,641.65),(12.73,641.5),(12.76,641.4),(12.8,641.6),(12.85,641.45),
    (12.9,641.55),(12.94,641.34),(12.3,642.1),(12.05,642.1),
    (13.0,641.5),(13.03,641.35),(13.06,641.6),(13.09,641.4),(13.12,641.55),(13.15,641.3),(13.18,641.5),
    (13.21,641.35),(13.24,641.55),(13.27,641.3),(13.3,641.45),(13.33,641.25),(13.36,641.5),(13.39,641.3),
    (13.42,641.45),(13.45,641.25),(13.48,641.4),(13.51,641.3),(13.54,641.45),(13.57,641.25),(13.6,641.4),
    (13.63,641.3),(13.66,641.45),(13.69,641.25),(13.72,641.4),(13.75,641.3),(13.78,641.42),(13.81,641.22),
    (13.84,641.35),(13.87,641.2),(13.9,641.3),(13.93,641.15),(13.96,641.25),(13.99,641.05),(14.02,641.2),
    (14.05,641.0),(14.08,641.15),(14.11,640.95),(14.14,641.1),(14.17,640.9),(14.2,641.05),(14.23,640.85),
    (14.26,641.0),(14.29,640.8),(14.32,640.95),(14.35,640.75),(14.38,640.9),(14.41,640.7),(14.44,640.85),
    (14.47,640.65),(14.5,640.8),(14.53,640.6),(14.56,640.75),(14.59,640.55),(14.62,640.7),(14.65,640.55),
    (14.68,640.65),(14.71,640.5),(14.74,640.6),(14.77,640.5),(14.25,641.25),(14.1,641.35),(13.6,641.6),
    (14.7,637.45),(14.73,637.35),(14.75,637.48),(14.77,637.32),(14.79,637.42),(14.81,637.36),
    (14.96,637.34),(15.0,637.3),(15.04,637.36),(15.08,637.31),(15.12,637.35),(15.16,637.3),(15.2,637.34),
    (15.24,637.29),(15.28,637.33),(15.32,637.28),(15.36,637.32),(15.4,637.27),(15.44,637.31),(15.48,637.26),
    (15.52,637.3),(15.56,637.25),(15.6,637.29),(15.64,637.24),(15.68,637.28),(15.72,637.23),(15.76,637.27),
    (15.8,637.22),(15.84,637.26),(15.88,637.21),(15.92,637.25),(15.96,637.2),(16.0,637.24),(16.04,637.19),
    (16.08,637.23),(16.12,637.18),(16.16,637.22),(16.2,637.17),(16.24,637.21),(16.28,637.16),(16.32,637.2),
    (16.36,637.15),(16.4,637.19),(16.44,637.15),(16.48,637.18),(16.5,637.15),
]
oct26_scatter = [
    (9.46,638.86),(9.63,638.86),(9.68,638.83),(9.66,638.92),(9.45,638.15),(9.68,638.1),(9.7,638.2),
    (10.2,638.9),(10.22,638.8),
    (13.35,639.2),(13.38,639.1),(13.41,639.12),(13.61,639.03),(14.55,639.16),(14.58,639.12),(14.72,639.06),
    (14.69,638.85),(14.75,638.92),(14.78,638.55),(14.45,638.9),(14.48,638.85),
    (14.38,645.55),(14.38,645.09),(13.13,643.57),(13.23,643.65),(13.33,643.6),(13.21,643.33),(13.33,643.24),
    (13.28,643.0),(13.48,643.02),(13.7,643.44),(13.87,643.68),(13.11,642.5),(13.1,642.42),(13.17,642.24),
    (13.08,641.86),(13.15,641.9),(13.2,641.62),(13.35,642.03),(13.51,641.9),(13.63,641.96),(13.68,642.05),
    (13.7,641.82),(13.82,641.9),(13.92,641.96),(14.17,641.96),(14.26,641.92),(14.38,641.75),(14.57,641.48),
    (14.64,641.5),
    (13.1,640.38),(13.15,640.35),(13.13,640.1),(13.3,640.4),(13.35,640.3),(13.45,640.23),(13.21,639.96),
    (13.35,639.62),(13.36,639.55),(13.6,639.7),(13.61,639.4),
    (10.23,642.17),(10.38,642.54),(10.43,642.79),(10.46,641.9),(10.59,642.2),(10.63,642.3),(10.68,642.03),
    (10.71,642.33),(10.76,642.33),(10.67,642.86),(10.88,642.03),(11.03,642.13),(11.18,641.92),(11.24,641.82),
    (11.32,642.47),(11.38,641.98),(11.4,641.96),(11.6,642.72),(11.67,642.37),(11.67,642.1),(11.82,641.99),
    (11.95,642.61),(10.37,641.1),(10.55,641.02),(10.54,640.4),(12.14,642.51),(12.19,642.3),(12.24,642.97),
    (12.29,642.72),(12.34,642.68),(12.5,643.27),(12.59,642.58),(12.69,642.14),(12.78,642.03),(11.95,641.34),
    (11.98,641.27),(11.93,640.98),(11.97,641.48),(12.15,640.45),(12.1,640.35),(11.77,640.24),(11.82,639.75),
    (11.95,639.5),(11.98,639.44),(12.07,639.55),(12.87,640.35),(12.91,640.17),(12.87,636.95),(10.51,635.57),
    (10.69,635.57),(10.55,638.0),(10.63,639.66),(10.72,639.68),(10.75,639.34),(10.51,639.38),(10.53,639.06),
    (11.12,640.0),(11.22,640.1),(11.15,639.58),(11.05,638.28),(11.3,637.9),(10.25,638.2),(10.46,638.0),
    (10.65,638.06),(10.82,638.1),
    (13.06,637.9),(13.11,637.5),(13.21,638.17),(13.29,638.1),(13.71,637.04),(13.92,638.03),(14.13,637.62),
    (14.36,637.8),(13.35,636.4),
    (15.11,640.58),(15.25,640.6),(15.29,640.45),(15.29,640.25),(15.22,640.25),(15.26,640.18),(15.23,640.3),
    (15.45,640.37),(15.59,640.5),(15.57,640.25),(15.61,640.13),(15.25,638.9),(15.25,638.72),(15.24,638.28),
    (15.29,638.06),(15.26,638.0),(15.47,638.7),(15.51,638.68),(15.56,638.68),(15.47,637.96),(15.53,637.9),
    (15.27,635.85),(15.61,636.14),(16.27,638.5),(16.35,638.44),(16.35,637.6),(16.38,641.75),(16.47,639.8),
]

titles = ['23 October', '24 October', '25 October', '26 October']
series = [oct23_early + oct23_mid + oct23_late + oct23_scatter,
          oct24_upper + oct24_lower + oct24_scatter,
          oct25_bands + oct25_scatter,
          oct26_bands + oct26_scatter]
time_ranges = [(8.325, 17.83), (8.80, 13.27), (9.037, 16.71), (9.44, 16.49)]
tick_hours = [[9, 12, 15], [9, 10, 11, 12, 13], [12, 15], [12, 15]]
tick_labels = [['09:00', '12:00', '15:00'],
               ['09:00', '10:00', '11:00', '12:00', '13:00'],
               ['12:00', '15:00'], ['12:00', '15:00']]
delay_ticks = [636, 638, 640, 642, 644, 646]

fig = plt.figure(figsize=(8.95, 7.4), dpi=100)
boxes = [[0.0894, 0.5784, 0.3933, 0.3595], [0.6053, 0.5784, 0.3925, 0.3595],
         [0.0894, 0.0766, 0.3933, 0.3589], [0.6053, 0.0766, 0.3925, 0.3589]]

for i in range(4):
    ax = fig.add_axes(boxes[i])
    pts = np.array(series[i])
    ax.plot(pts[:, 0], pts[:, 1], linestyle='none', marker='P', markersize=4.8,
            markeredgewidth=0.3, markeredgecolor='#555555', color='#454545')
    ax.set_xlim(time_ranges[i])
    ax.set_ylim(635, 646)
    ax.set_xticks(tick_hours[i])
    ax.set_xticklabels(tick_labels[i])
    ax.set_yticks(delay_ticks)
    ax.tick_params(direction='in', top=True, right=True, length=4, width=0.8, color='#333333')
    ax.tick_params(axis='x', labelsize=13, pad=7)
    ax.tick_params(axis='y', labelsize=13, pad=8)
    for s in ax.spines.values():
        s.set_color('#333333')
        s.set_linewidth(0.9)
    ax.set_title(titles[i], fontsize=17.5, pad=9)
    ax.set_xlabel('Time (hours)', fontsize=18, labelpad=1)
    ax.set_ylabel('time delay (ms)', fontsize=18, labelpad=3)

plt.savefig('out.png', dpi=100)
